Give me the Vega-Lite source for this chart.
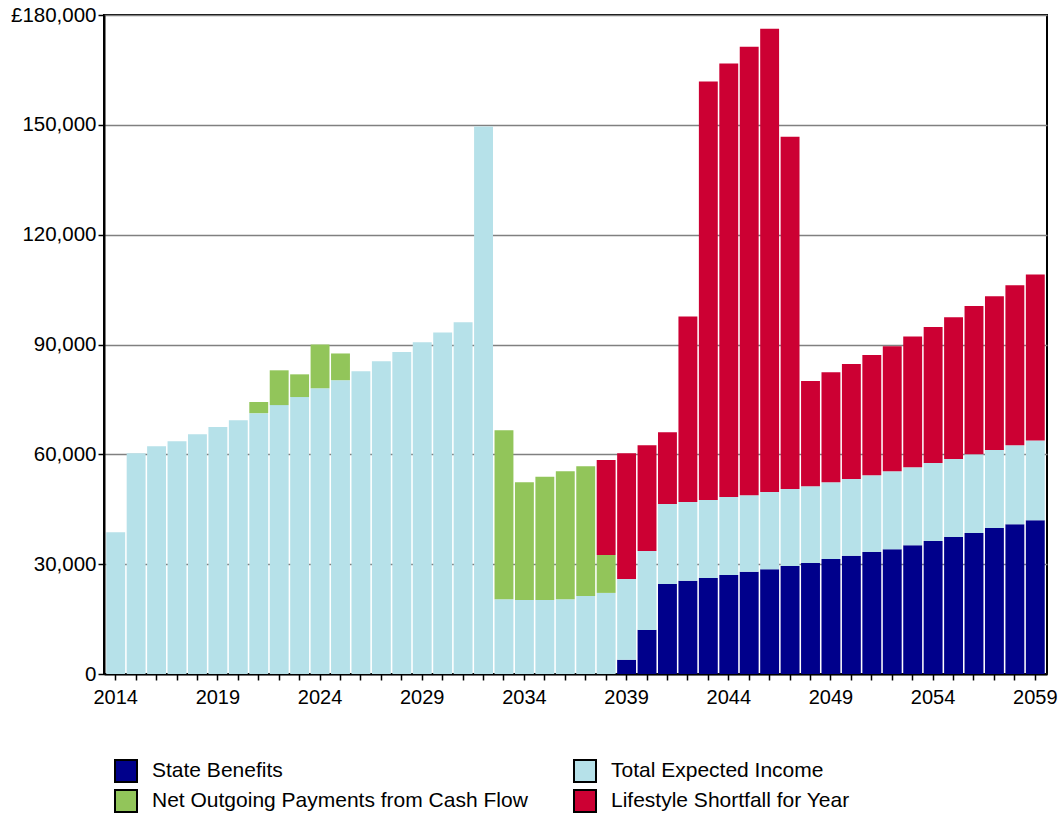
{
  "$schema": "https://vega.github.io/schema/vega-lite/v6.json",
  "autosize": {"type": "none"},
  "width": 943,
  "height": 659,
  "padding": {"left": 104, "top": 15, "right": 13, "bottom": 139},
  "background": "white",
  "config": {
    "font": "Liberation Sans",
    "view": {"stroke": "black", "strokeWidth": 2},
    "axis": {"labelFont": "Liberation Sans", "labelColor": "black", "domainColor": "black", "tickColor": "black", "title": null}
  },
  "datasets": {
    "seriesOrder": [
      {"series": "State Benefits", "rank": 1},
      {"series": "Total Expected Income", "rank": 2},
      {"series": "Net Outgoing Payments from Cash Flow", "rank": 3},
      {"series": "Lifestyle Shortfall for Year", "rank": 4}
    ]
  },
  "data": {
    "values": [
      {"year": 2014, "series": "Total Expected Income", "value": 38700},
      {"year": 2015, "series": "Total Expected Income", "value": 60300},
      {"year": 2016, "series": "Total Expected Income", "value": 62200},
      {"year": 2017, "series": "Total Expected Income", "value": 63600},
      {"year": 2018, "series": "Total Expected Income", "value": 65500},
      {"year": 2019, "series": "Total Expected Income", "value": 67500},
      {"year": 2020, "series": "Total Expected Income", "value": 69300},
      {"year": 2021, "series": "Total Expected Income", "value": 71250},
      {"year": 2021, "series": "Net Outgoing Payments from Cash Flow", "value": 3050},
      {"year": 2022, "series": "Total Expected Income", "value": 73450},
      {"year": 2022, "series": "Net Outgoing Payments from Cash Flow", "value": 9500},
      {"year": 2023, "series": "Total Expected Income", "value": 75650},
      {"year": 2023, "series": "Net Outgoing Payments from Cash Flow", "value": 6200},
      {"year": 2024, "series": "Total Expected Income", "value": 78050},
      {"year": 2024, "series": "Net Outgoing Payments from Cash Flow", "value": 11950},
      {"year": 2025, "series": "Total Expected Income", "value": 80250},
      {"year": 2025, "series": "Net Outgoing Payments from Cash Flow", "value": 7300},
      {"year": 2026, "series": "Total Expected Income", "value": 82700},
      {"year": 2027, "series": "Total Expected Income", "value": 85400},
      {"year": 2028, "series": "Total Expected Income", "value": 87950},
      {"year": 2029, "series": "Total Expected Income", "value": 90600},
      {"year": 2030, "series": "Total Expected Income", "value": 93300},
      {"year": 2031, "series": "Total Expected Income", "value": 96100},
      {"year": 2032, "series": "Total Expected Income", "value": 149550},
      {"year": 2033, "series": "Total Expected Income", "value": 20450},
      {"year": 2033, "series": "Net Outgoing Payments from Cash Flow", "value": 46150},
      {"year": 2034, "series": "Total Expected Income", "value": 20200},
      {"year": 2034, "series": "Net Outgoing Payments from Cash Flow", "value": 32150},
      {"year": 2035, "series": "Total Expected Income", "value": 20200},
      {"year": 2035, "series": "Net Outgoing Payments from Cash Flow", "value": 33650},
      {"year": 2036, "series": "Total Expected Income", "value": 20450},
      {"year": 2036, "series": "Net Outgoing Payments from Cash Flow", "value": 34950},
      {"year": 2037, "series": "Total Expected Income", "value": 21300},
      {"year": 2037, "series": "Net Outgoing Payments from Cash Flow", "value": 35450},
      {"year": 2038, "series": "Total Expected Income", "value": 22150},
      {"year": 2038, "series": "Net Outgoing Payments from Cash Flow", "value": 10350},
      {"year": 2038, "series": "Lifestyle Shortfall for Year", "value": 25950},
      {"year": 2039, "series": "State Benefits", "value": 3900},
      {"year": 2039, "series": "Total Expected Income", "value": 22050},
      {"year": 2039, "series": "Lifestyle Shortfall for Year", "value": 34350},
      {"year": 2040, "series": "State Benefits", "value": 12050},
      {"year": 2040, "series": "Total Expected Income", "value": 21550},
      {"year": 2040, "series": "Lifestyle Shortfall for Year", "value": 28850},
      {"year": 2041, "series": "State Benefits", "value": 24600},
      {"year": 2041, "series": "Total Expected Income", "value": 21800},
      {"year": 2041, "series": "Lifestyle Shortfall for Year", "value": 19600},
      {"year": 2042, "series": "State Benefits", "value": 25450},
      {"year": 2042, "series": "Total Expected Income", "value": 21550},
      {"year": 2042, "series": "Lifestyle Shortfall for Year", "value": 50650},
      {"year": 2043, "series": "State Benefits", "value": 26200},
      {"year": 2043, "series": "Total Expected Income", "value": 21300},
      {"year": 2043, "series": "Lifestyle Shortfall for Year", "value": 114350},
      {"year": 2044, "series": "State Benefits", "value": 27050},
      {"year": 2044, "series": "Total Expected Income", "value": 21300},
      {"year": 2044, "series": "Lifestyle Shortfall for Year", "value": 118400},
      {"year": 2045, "series": "State Benefits", "value": 27900},
      {"year": 2045, "series": "Total Expected Income", "value": 20950},
      {"year": 2045, "series": "Lifestyle Shortfall for Year", "value": 122500},
      {"year": 2046, "series": "State Benefits", "value": 28600},
      {"year": 2046, "series": "Total Expected Income", "value": 21100},
      {"year": 2046, "series": "Lifestyle Shortfall for Year", "value": 126550},
      {"year": 2047, "series": "State Benefits", "value": 29500},
      {"year": 2047, "series": "Total Expected Income", "value": 21050},
      {"year": 2047, "series": "Lifestyle Shortfall for Year", "value": 96200},
      {"year": 2048, "series": "State Benefits", "value": 30350},
      {"year": 2048, "series": "Total Expected Income", "value": 20950},
      {"year": 2048, "series": "Lifestyle Shortfall for Year", "value": 28700},
      {"year": 2049, "series": "State Benefits", "value": 31400},
      {"year": 2049, "series": "Total Expected Income", "value": 20950},
      {"year": 2049, "series": "Lifestyle Shortfall for Year", "value": 30100},
      {"year": 2050, "series": "State Benefits", "value": 32300},
      {"year": 2050, "series": "Total Expected Income", "value": 20950},
      {"year": 2050, "series": "Lifestyle Shortfall for Year", "value": 31400},
      {"year": 2051, "series": "State Benefits", "value": 33350},
      {"year": 2051, "series": "Total Expected Income", "value": 20950},
      {"year": 2051, "series": "Lifestyle Shortfall for Year", "value": 32800},
      {"year": 2052, "series": "State Benefits", "value": 34100},
      {"year": 2052, "series": "Total Expected Income", "value": 21300},
      {"year": 2052, "series": "Lifestyle Shortfall for Year", "value": 34100},
      {"year": 2053, "series": "State Benefits", "value": 35200},
      {"year": 2053, "series": "Total Expected Income", "value": 21300},
      {"year": 2053, "series": "Lifestyle Shortfall for Year", "value": 35700},
      {"year": 2054, "series": "State Benefits", "value": 36300},
      {"year": 2054, "series": "Total Expected Income", "value": 21300},
      {"year": 2054, "series": "Lifestyle Shortfall for Year", "value": 37150},
      {"year": 2055, "series": "State Benefits", "value": 37400},
      {"year": 2055, "series": "Total Expected Income", "value": 21300},
      {"year": 2055, "series": "Lifestyle Shortfall for Year", "value": 38750},
      {"year": 2056, "series": "State Benefits", "value": 38500},
      {"year": 2056, "series": "Total Expected Income", "value": 21550},
      {"year": 2056, "series": "Lifestyle Shortfall for Year", "value": 40450},
      {"year": 2057, "series": "State Benefits", "value": 39850},
      {"year": 2057, "series": "Total Expected Income", "value": 21300},
      {"year": 2057, "series": "Lifestyle Shortfall for Year", "value": 42000},
      {"year": 2058, "series": "State Benefits", "value": 40900},
      {"year": 2058, "series": "Total Expected Income", "value": 21600},
      {"year": 2058, "series": "Lifestyle Shortfall for Year", "value": 43700},
      {"year": 2059, "series": "State Benefits", "value": 42000},
      {"year": 2059, "series": "Total Expected Income", "value": 21800},
      {"year": 2059, "series": "Lifestyle Shortfall for Year", "value": 45350}
    ]
  },
  "transform": [
    {"lookup": "series", "from": {"data": {"name": "seriesOrder"}, "key": "series", "fields": ["rank"]}}
  ],
  "mark": {"type": "bar"},
  "encoding": {
    "x": {
      "field": "year",
      "type": "ordinal",
      "scale": {"paddingInner": 0.075, "paddingOuter": 0.11},
      "axis": {
        "labelAngle": 0,
        "labelFontSize": 20,
        "labelPadding": 7,
        "labelOverlap": false,
        "labelExpr": "(datum.value - 2014) % 5 == 0 ? datum.label : ''",
        "tickSize": 6,
        "tickWidth": 1.5,
        "domainWidth": 2,
        "grid": false
      }
    },
    "y": {
      "field": "value",
      "type": "quantitative",
      "stack": "zero",
      "scale": {"domain": [0, 180000], "nice": false},
      "axis": {
        "values": [0, 30000, 60000, 90000, 120000, 150000, 180000],
        "labelExpr": "datum.value == 180000 ? '£180,000' : format(datum.value, ',')",
        "labelFontSize": 20.5,
        "labelPadding": 2,
        "tickSize": 6,
        "tickWidth": 1.5,
        "domainWidth": 2,
        "grid": true,
        "gridColor": "#808080",
        "gridWidth": 1.5
      }
    },
    "order": {"field": "rank", "type": "quantitative", "sort": "ascending"},
    "color": {
      "field": "series",
      "type": "nominal",
      "sort": ["State Benefits", "Total Expected Income", "Net Outgoing Payments from Cash Flow", "Lifestyle Shortfall for Year"],
      "scale": {
        "domain": ["State Benefits", "Total Expected Income", "Net Outgoing Payments from Cash Flow", "Lifestyle Shortfall for Year"],
        "range": ["#00008B", "#B6E1E9", "#92C55A", "#CC0033"]
      },
      "legend": {
        "title": null,
        "orient": "none",
        "legendX": 10,
        "legendY": 744,
        "direction": "horizontal",
        "columns": 2,
        "columnPadding": 42,
        "rowPadding": 0,
        "padding": 0,
        "symbolType": "square",
        "symbolSize": 484,
        "symbolStrokeColor": "black",
        "symbolStrokeWidth": 2,
        "symbolOpacity": 1,
        "labelFont": "Liberation Sans",
        "labelFontSize": 21,
        "labelColor": "black",
        "labelOffset": 14,
        "labelLimit": 600
      }
    }
  }
}
